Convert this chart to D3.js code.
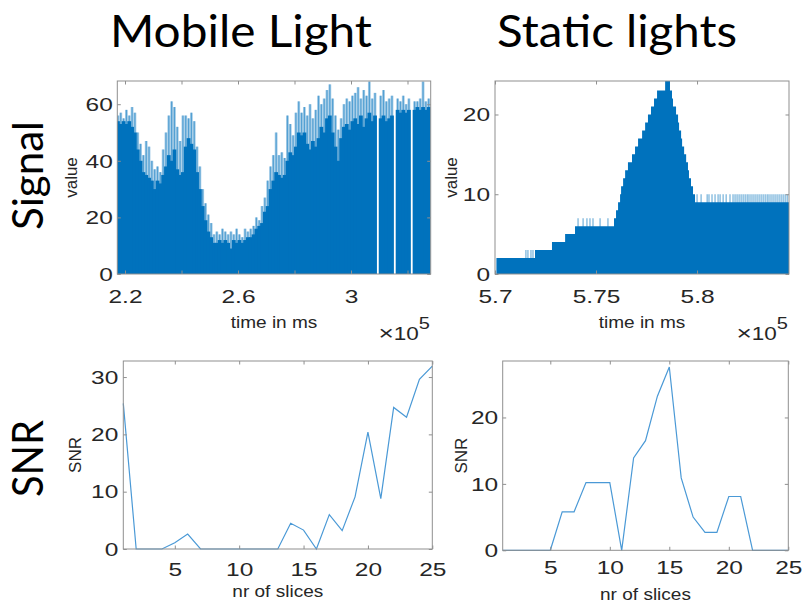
<!DOCTYPE html>
<html><head><meta charset="utf-8">
<script src="https://cdn.jsdelivr.net/npm/d3@7/dist/d3.min.js"></script>
<style>body{margin:0;background:#fff}</style>
</head><body>
<svg id="c" width="802" height="605"></svg>
<script>
// ---------------- DATA ----------------
// Mobile light signal: time grid in units of 10^5 ms
const mobileStart = 2.175, mobileStep = 0.01;
const mobileBase = [54,53,54,53,54,52,50,44,40,36,35,34,33,30,33,32,35,38,42,40,44,37,35,36,45,48,46,44,36,30,24,19,15,13,
  11,11,12,11,12,11,9,12,11,12,11,12,13,13,14,16,17,18,22,24,30,33,36,35,34,35,40,43,42,45,
  50,49,50,46,44,47,45,48,52,50,55,56,50,45,40,48,52,53,51,54,55,53,56,52,55,57,54,56,0,55,56,54,
  55,56,0,58,57,58,57,58,0,58,59,58,59,58,59];
const mobilePeak = [56,57,55,58,56,59,57,50,46,42,47,45,40,37,38,36,44,50,56,61,59,52,47,56,56,55,57,54,45,38,30,25,21,18,
  14,15,14,16,15,14,15,14,16,14,13,16,15,16,17,20,19,24,27,33,38,42,50,42,43,41,56,53,49,57,
  61,57,59,56,60,55,58,63,60,62,65,67,62,56,51,55,60,62,61,63,64,66,62,65,63,68,62,64,0,63,65,61,
  62,63,0,62,61,63,60,62,0,61,61,62,68,61,62];

// Static lights signal: level steps (time in 10^5 ms where each level starts)
const staticLevelTimes = [5.7007,5.7198,5.7282,5.7347,5.7396,5.7589,5.7599,5.7609,5.7619,5.7624,5.7634,5.7644,5.7658,5.7678,
  5.7693,5.7708,5.7728,5.7743,5.7757,5.7772,5.7787,5.7802,5.7842,5.7866,5.7876,5.7881,5.7896,5.7906,5.7911,5.7921,5.7926,
  5.7936,5.7946,5.7955,5.7960,5.7970,5.7980,5.7990,5.8455];
const staticLevels = [2,3,4,5,6,7,8,9,10,11,12,13,14,15,16,17,18,19,20,21,22,23,24.5,23,22,21,20,19,18,17,16,15,14,13,12,11,10,9,9];
const staticSpikeTimes = [5.7153,5.7163,5.7178,5.7188,5.7411,5.7436,5.7455,5.7470,5.7485,5.7520,5.7559,
  5.8000,5.8020,5.8050,5.8059,5.8074,5.8089,5.8104,5.8114,5.8129,5.8144,5.8163,5.8178,5.8188,5.8198,5.8208,5.8218,5.8228,
  5.8238,5.8248,5.8257,5.8267,5.8277,5.8287,5.8297,5.8307,5.8317,5.8327,5.8337,5.8347,5.8356,5.8366,5.8376,5.8386,5.8396,
  5.8406,5.8416,5.8426,5.8436,5.8446];
const staticSpikeValues = [3,3,3,3,7,7,7,7,7,7,7,
  10,10,10,10,10,10,10,10,10,10,10,10,10,10,10,10,10,10,10,10,10,10,10,10,10,10,10,10,10,10,10,10,10,10,10,10,10,10,10];

// SNR per number of slices
const slices = [1,2,3,4,5,6,7,8,9,10,11,12,13,14,15,16,17,18,19,20,21,22,23,24,25];
const mobileSNR = [25.4,0,0,0,1.1,2.6,0,0,0,0,0,0,0,4.5,3.3,0,6.0,3.2,9.1,20.4,8.8,24.7,23.0,29.6,31.9];
const staticSNR = [0,0,0,0,0,5.8,5.8,10.2,10.2,10.2,0,13.9,16.5,23.2,27.6,10.9,5.0,2.7,2.7,8.1,8.1,0,0,0,0];

// tick values
const mobileTimeTicks = [2.2,2.4,2.6,2.8,3.0,3.2];
const mobileTimeLabels = [2.2,2.6,3.0];
const mobileValueTicks = [0,20,40,60];
const staticTimeTicks = [5.7,5.75,5.8];
const staticValueTicks = [0,10,20];
const sliceTicks = [5,10,15,20,25];
const mobileSNRTicks = [0,10,20,30];
const staticSNRTicks = [0,10,20];

// ---------------- DRAWING ----------------
const svg = d3.select('#c');
const FONT = "'Liberation Sans', Arial, Helvetica, sans-serif";
const TFONT = "Lato, 'Open Sans', sans-serif";
const BLUE = '#0072BD';
const FRAME = '#8f8f8f';
const TXT = '#262626';
const TS = 17.5, TSX = 1.4;   // tick font size / horizontal stretch
const LS = 17, LSX = 1.12;    // label font size / stretch

let clipId = 0;
function panel(p) {
  const x = d3.scaleLinear().domain(p.xd).range([p.l, p.r]);
  const y = d3.scaleLinear().domain(p.yd).range([p.b, p.t]);
  const g = svg.append('g');
  const id = 'clip' + (clipId++);
  svg.append('clipPath').attr('id', id).append('rect')
    .attr('x', p.l).attr('y', p.t).attr('width', p.r - p.l).attr('height', p.b - p.t);
  const plot = g.append('g').attr('clip-path', `url(#${id})`);
  return {x, y, g, plot, p};
}
function decorate(P, o) {
  const {x, y, g, p} = P;
  g.append('rect').attr('x', p.l).attr('y', p.t).attr('width', p.r - p.l).attr('height', p.b - p.t)
    .attr('fill', 'none').attr('stroke', FRAME).attr('stroke-width', 1);
  const tl = 3.5;
  const mk = (axis, tx, ty) => {
    const a = g.append('g').attr('transform', `translate(${tx},${ty})`).call(axis);
    a.select('.domain').remove();
    a.selectAll('line').attr('stroke', FRAME);
    return a;
  };
  const bx = mk(d3.axisBottom(x).tickValues(o.xt).tickSizeInner(-tl).tickSizeOuter(0)
      .tickFormat(d => (o.xl ? (o.xl.some(v => Math.abs(v - d) < 1e-9) ? o.xf(d) : '') : o.xf(d))), 0, p.b);
  bx.selectAll('text').attr('y', o.xb).attr('dy', 0).attr('fill', TXT)
    .style('font-family', FONT).style('font-size', TS + 'px').attr('transform', `scale(${TSX},1)`);
  mk(d3.axisTop(x).tickValues(o.xt).tickSizeInner(-tl).tickSizeOuter(0).tickFormat(''), 0, p.t);
  const ly = mk(d3.axisLeft(y).tickValues(o.yt).tickSizeInner(-tl).tickSizeOuter(0).tickFormat(d3.format('d')), p.l, 0);
  ly.selectAll('text').attr('x', -o.yg / TSX).attr('dy', '0.36em').attr('fill', TXT)
    .style('font-family', FONT).style('font-size', TS + 'px').attr('transform', `scale(${TSX},1)`);
  mk(d3.axisRight(y).tickValues(o.yt).tickSizeInner(-tl).tickSizeOuter(0).tickFormat(''), p.r, 0);
  g.append('text').attr('transform', `translate(${(p.l + p.r) / 2},${o.xlabY}) scale(${LSX},1)`)
    .attr('text-anchor', 'middle').attr('fill', TXT).style('font-family', FONT).style('font-size', LS + 'px')
    .text(o.xlab);
  g.append('text').attr('transform', `translate(${o.ylabX},${(p.t + p.b) / 2}) rotate(-90)`)
    .attr('text-anchor', 'middle').attr('fill', TXT).style('font-family', FONT).style('font-size', LS + 'px')
    .text(o.ylab);
  if (o.exp) {
    const e = g.append('text').attr('transform', `translate(${o.exp[0]},${o.exp[1]}) scale(1.25,1)`)
      .attr('text-anchor', 'end').attr('fill', TXT).style('font-family', FONT).style('font-size', '18px');
    e.append('tspan').style('font-size', '21px').text('\u00d7');
    e.append('tspan').text('10');
    e.append('tspan').attr('dy', -11).style('font-size', '16px').text('5');
  }
}

// Panel 1: mobile signal
const P1 = panel({l: 117.3, r: 430.7, t: 81, b: 274, xd: [2.1727, 3.2821], yd: [0, 68.2]});
{
  const {x, y, plot} = P1;
  const half = mobileStep / 2;
  const tOf = i => mobileStart + i * mobileStep;
  const bw = i => x(tOf(i) + half) - x(tOf(i) - half);
  plot.selectAll('rect.pf').data(mobilePeak).join('rect').attr('class', 'pf')
    .attr('x', (d, i) => x(tOf(i) - half)).attr('width', (d, i) => bw(i))
    .attr('y', d => y(d)).attr('height', d => y(0) - y(d))
    .attr('fill', BLUE).attr('opacity', 0.35);
  plot.selectAll('rect.pk').data(mobilePeak).join('rect').attr('class', 'pk')
    .attr('x', (d, i) => x(tOf(i)) - 0.6).attr('width', 1.2)
    .attr('y', d => y(d)).attr('height', d => y(0) - y(d))
    .attr('fill', BLUE).attr('opacity', 0.5);
  plot.selectAll('rect.bs').data(mobileBase).join('rect').attr('class', 'bs')
    .attr('x', (d, i) => x(tOf(i) - half) - 0.5).attr('width', (d, i) => bw(i) + 1)
    .attr('y', d => y(d)).attr('height', d => y(0) - y(d))
    .attr('fill', BLUE);
}
decorate(P1, {xt: mobileTimeTicks, xl: mobileTimeLabels, xf: d3.format('~g'), yt: mobileValueTicks,
  xb: 29, yg: 4.5, xlab: 'time in ms', xlabY: 328, ylab: 'value', ylabX: 77, exp: [430, 340]});

// Panel 2: static signal
const P2 = panel({l: 495, r: 789, t: 81, b: 274, xd: [5.7, 5.8455], yd: [0, 24.2]});
{
  const {x, y, plot} = P2;
  plot.selectAll('line.sp').data(staticSpikeTimes).join('line').attr('class', 'sp')
    .attr('x1', d => x(d)).attr('x2', d => x(d))
    .attr('y1', y(0)).attr('y2', (d, i) => y(staticSpikeValues[i]))
    .attr('stroke', BLUE).attr('stroke-width', 1.2).attr('opacity', 0.55);
  const pts = staticLevelTimes.map((t, i) => [t, staticLevels[i]]);
  plot.append('path').datum(pts)
    .attr('d', d3.area().curve(d3.curveStepAfter).x(d => x(d[0])).y0(y(0)).y1(d => y(d[1])))
    .attr('fill', BLUE);
}
decorate(P2, {xt: staticTimeTicks, xf: d3.format('~g'), yt: staticValueTicks,
  xb: 29, yg: 5, xlab: 'time in ms', xlabY: 328, ylab: 'value', ylabX: 457, exp: [788, 340]});

// Panel 3: mobile SNR
const P3 = panel({l: 123.3, r: 432.3, t: 361, b: 549, xd: [1, 25], yd: [0, 32.8]});
{
  const {x, y, g} = P3;
  g.append('path').datum(slices)
    .attr('d', d3.line().x(d => x(d)).y((d, i) => y(mobileSNR[i])))
    .attr('fill', 'none').attr('stroke', '#4a99d6').attr('stroke-width', 1.2);
}
decorate(P3, {xt: sliceTicks, xf: d3.format('d'), yt: mobileSNRTicks,
  xb: 27, yg: 5, xlab: 'nr of slices', xlabY: 597, ylab: 'SNR', ylabX: 81});

// Panel 4: static SNR
const P4 = panel({l: 502.7, r: 788.3, t: 361, b: 550.3, xd: [1, 25], yd: [0, 28.5]});
{
  const {x, y, g} = P4;
  g.append('path').datum(slices)
    .attr('d', d3.line().x(d => x(d)).y((d, i) => y(staticSNR[i])))
    .attr('fill', 'none').attr('stroke', '#4a99d6').attr('stroke-width', 1.2);
}
decorate(P4, {xt: sliceTicks, xf: d3.format('d'), yt: staticSNRTicks,
  xb: 24, yg: 4.5, xlab: 'nr of slices', xlabY: 600, ylab: 'SNR', ylabX: 467});

// Titles and row labels
const big = (txt, tr, len, size) => svg.append('text').attr('transform', tr)
  .attr('text-anchor', 'middle').attr('fill', '#000').style('font-family', TFONT).style('font-size', size + 'px')
  .attr('textLength', len).attr('lengthAdjust', 'spacingAndGlyphs').text(txt);
big('Mobile Light', 'translate(241,47)', 262, 44);
big('Static lights', 'translate(617,47)', 240, 44);
big('Signal', 'translate(43,175.5) rotate(-90)', 109, 42);
big('SNR', 'translate(43,458.5) rotate(-90)', 77, 42);
</script>
</body></html>
